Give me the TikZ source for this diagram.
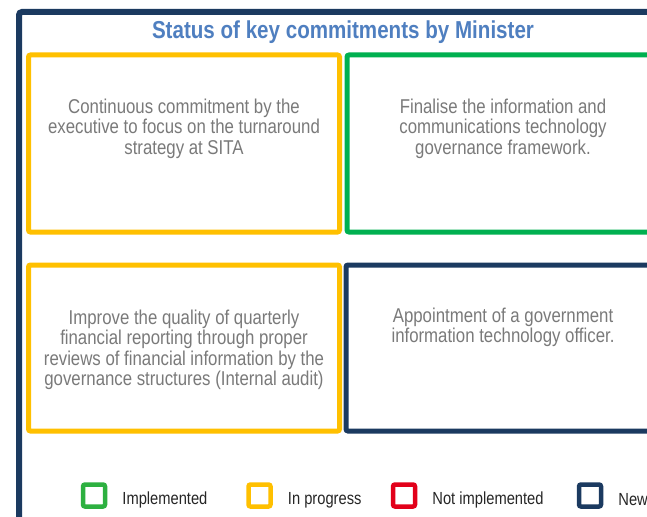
\documentclass[tikz,border=0pt]{standalone}
\usepackage{fontspec}
\setmainfont{Liberation Sans}[FakeStretch=0.84]
\definecolor{navy}{HTML}{1B3A60}
\definecolor{ambr}{HTML}{FFC000}
\definecolor{grn}{HTML}{00B050}
\definecolor{lgrn}{HTML}{2DB040}
\definecolor{rd}{HTML}{E2001A}
\definecolor{ttl}{HTML}{4F7FC0}
\definecolor{bodygray}{HTML}{7A7A7A}
\definecolor{leggray}{HTML}{262626}
\tikzset{
  card/.style={draw=#1, line width=5pt, rounded corners=2pt, inner sep=0pt},
  cardtext/.style={anchor=north, align=center, text=bodygray, font=\fontsize{20}{20.6}\selectfont, inner sep=0pt},
  legsq/.style={draw=#1, line width=4.5pt, rounded corners=2pt, minimum size=22pt, inner sep=0pt},
  legtext/.style={anchor=west, text=leggray, font=\fontsize{17.5}{20}\selectfont, inner sep=0pt},
}
\begin{document}
\begin{tikzpicture}[x=1pt,y=-1pt]
\useasboundingbox (0,0) rectangle (647,516);
\clip (0,0) rectangle (647,516);
\fill[white] (0,0) rectangle (647,516);
% outer frame
\draw[navy, line width=6pt, rounded corners=3pt] (19,12) rectangle (720,580);
% title
\node[font=\fontsize{24.5}{27}\bfseries\selectfont, text=ttl, inner sep=0pt] (title) at (343,32.5) {Status of key commitments by Minister};
% cards
\node[card=ambr, minimum width=311pt, minimum height=177pt] (b1) at (184,143.5) {};
\node[card=grn, minimum width=312pt, minimum height=177pt] (b2) at (503,143.5) {};
\node[card=ambr, minimum width=311pt, minimum height=166pt] (b3) at (184,348) {};
\node[card=navy, minimum width=314pt, minimum height=166pt] (b4) at (503,348) {};
\node[cardtext] (t1) at ([yshift=-46pt]b1.north) {Continuous commitment by the\\executive to focus on the turnaround\\strategy at SITA};
\node[cardtext] (t2) at ([yshift=-46pt]b2.north) {Finalise the information and\\communications technology\\governance framework.};
\node[cardtext] (t3) at ([yshift=-47pt]b3.north) {Improve the quality of quarterly\\financial reporting through proper\\reviews of financial information by the\\governance structures (Internal audit)};
\node[cardtext] (t4) at ([yshift=-45pt]b4.north) {Appointment of a government\\information technology officer.};
% legend
\node[legsq=lgrn] (l1) at (94,495.5) {};
\node[legsq=ambr] (l2) at (259.5,495.5) {};
\node[legsq=rd] (l3) at (404,495.5) {};
\node[legsq=navy] (l4) at (590,495.5) {};
\node[legtext] (lt1) at ([xshift=15pt,yshift=-4.5pt]l1.east) {Implemented};
\node[legtext] (lt2) at ([xshift=15pt,yshift=-4.5pt]l2.east) {In progress};
\node[legtext] (lt3) at ([xshift=15pt,yshift=-4.5pt]l3.east) {Not implemented};
\node[legtext] (lt4) at ([xshift=15pt,yshift=-4.5pt]l4.east) {New};
\end{tikzpicture}
\end{document}
